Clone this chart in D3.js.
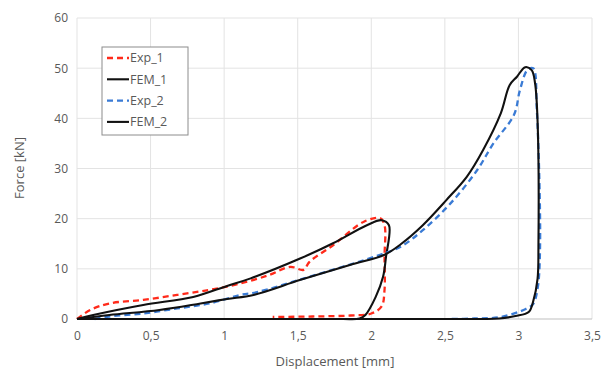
<!DOCTYPE html>
<html>
<head>
<meta charset="utf-8">
<script src="https://cdn.jsdelivr.net/npm/d3@7"></script>
<style>
  body { margin: 0; background: #fff; }
  text { font-family: "Open Sans", "Noto Sans", sans-serif; fill: #595959; }
</style>
</head>
<body>
<svg id="chart" width="604" height="376"></svg>
<script>
const xTicks = [0, 0.5, 1, 1.5, 2, 2.5, 3, 3.5];
const yTicks = [0, 10, 20, 30, 40, 50, 60];

// [displacement, force]
const exp1 = [
  [0, 0], [0.09, 1.8], [0.22, 3.1], [0.45, 3.8], [0.68, 4.8], [0.9, 5.8], [1.1, 7.0],
  [1.3, 8.7], [1.45, 10.4], [1.54, 9.8], [1.58, 11.4], [1.74, 14.7], [1.95, 19.4],
  [2.06, 20.1], [2.09, 18.7], [2.09, 12.4], [2.09, 5.8], [2.07, 2.5], [2.0, 1.1],
  [1.86, 0.7], [1.6, 0.5], [1.33, 0.4]
];
const fem1 = [
  [0, 0], [0.11, 0.8], [0.45, 2.8], [0.79, 4.4], [1.02, 6.6], [1.18, 8.1],
  [1.52, 12.1], [1.74, 15.1], [1.97, 18.7], [2.07, 19.7], [2.12, 18.7], [2.10, 12.4],
  [2.08, 8.4], [2.03, 4.4], [1.96, 0.8], [1.92, 0.1], [1.8, 0], [1.0, 0], [0, 0]
];
const exp2 = [
  [0.12, 0], [0.22, 0.5], [0.45, 1.1], [0.68, 2.1], [0.9, 3.1], [1.11, 4.8], [1.23, 5.4],
  [1.52, 7.9], [1.86, 10.9], [2.06, 12.8], [2.2, 14.4], [2.35, 17.7], [2.54, 23.1],
  [2.72, 29.7], [2.83, 35.0], [2.97, 40.7], [3.01, 45.6], [3.06, 49.6], [3.10, 50.0],
  [3.125, 41.7], [3.147, 14.4], [3.13, 6.0], [3.10, 3.0], [3.05, 2.0], [2.88, 0.4],
  [2.7, 0.1], [2.52, 0]
];
const fem2 = [
  [0, 0], [0.22, 0.8], [0.56, 1.8], [0.84, 3.1], [1.02, 4.0], [1.2, 4.8], [1.52, 7.8],
  [1.86, 10.8], [2.09, 12.8], [2.2, 14.9], [2.35, 18.7], [2.51, 23.7], [2.65, 28.4],
  [2.76, 33.7], [2.88, 41.0], [2.94, 46.6], [2.99, 48.3], [3.046, 50.2], [3.09, 49.6],
  [3.113, 47.0], [3.129, 40.3], [3.136, 14.4], [3.13, 8.0], [3.10, 3.5], [3.07, 1.4],
  [2.98, 0.6], [2.87, 0.1], [2.75, 0], [2.0, 0], [0, 0]
];

const series = [
  { name: "Exp_1", data: exp1, color: "#ff2a1a", dash: "6,4", width: 2.3 },
  { name: "FEM_1", data: fem1, color: "#111111", dash: null, width: 2.1 },
  { name: "Exp_2", data: exp2, color: "#3a7bd5", dash: "6,4", width: 2.3 },
  { name: "FEM_2", data: fem2, color: "#111111", dash: null, width: 2.1 }
];

const svg = d3.select("#chart");
const x = d3.scaleLinear().domain([0, 3.5]).range([77, 592]);
const y = d3.scaleLinear().domain([0, 60]).range([319, 18]);

// grid
svg.append("g").selectAll("line").data(xTicks).join("line")
  .attr("x1", d => x(d)).attr("x2", d => x(d))
  .attr("y1", y(0)).attr("y2", y(60))
  .attr("stroke", "#e3e3e3").attr("stroke-width", 1);
svg.append("g").selectAll("line").data(yTicks).join("line")
  .attr("x1", x(0)).attr("x2", x(3.5))
  .attr("y1", d => y(d)).attr("y2", d => y(d))
  .attr("stroke", d => d === 0 ? "#bfbfbf" : "#e3e3e3").attr("stroke-width", 1);

// tick labels
const xAxis = svg.append("g").attr("transform", `translate(0,${y(0)})`)
  .call(d3.axisBottom(x).tickValues(xTicks).tickSize(0).tickPadding(12)
    .tickFormat(d => String(d).replace(".", ",")));
const yAxis = svg.append("g").attr("transform", `translate(${x(0)},0)`)
  .call(d3.axisLeft(y).tickValues(yTicks).tickSize(0).tickPadding(9));
[xAxis, yAxis].forEach(a => {
  a.select(".domain").remove();
  a.selectAll("text").attr("font-size", 12).attr("fill", "#595959")
    .attr("font-family", "'Open Sans', sans-serif");
});

// lines
const line = d3.line().x(d => x(d[0])).y(d => y(Math.max(0, d[1])))
  .curve(d3.curveCatmullRom.alpha(0.5));
svg.append("g").selectAll("path").data(series).join("path")
  .attr("d", d => line(d.data))
  .attr("fill", "none")
  .attr("stroke", d => d.color)
  .attr("stroke-width", d => d.width)
  .attr("stroke-dasharray", d => d.dash)
  .attr("stroke-linejoin", "round");

// axis titles
svg.append("text").attr("x", 335).attr("y", 366).attr("text-anchor", "middle")
  .attr("font-size", 13).text("Displacement [mm]");
svg.append("text").attr("transform", "translate(24,168) rotate(-90)")
  .attr("text-anchor", "middle").attr("font-size", 13).text("Force [kN]");

// legend
const legend = svg.append("g").attr("transform", "translate(102,47)");
legend.append("rect").attr("width", 86).attr("height", 88)
  .attr("fill", "#fff").attr("stroke", "#8c8c8c").attr("stroke-width", 1);
const item = legend.selectAll("g").data(series).join("g")
  .attr("transform", (d, i) => `translate(5,${11 + i * 21.3})`);
item.append("line").attr("x1", 0).attr("x2", 22)
  .attr("stroke", d => d.color).attr("stroke-width", d => d.width)
  .attr("stroke-dasharray", d => d.dash);
item.append("text").attr("x", 23).attr("dy", "0.35em").attr("font-size", 12.5)
  .text(d => d.name);
</script>
</body>
</html>
